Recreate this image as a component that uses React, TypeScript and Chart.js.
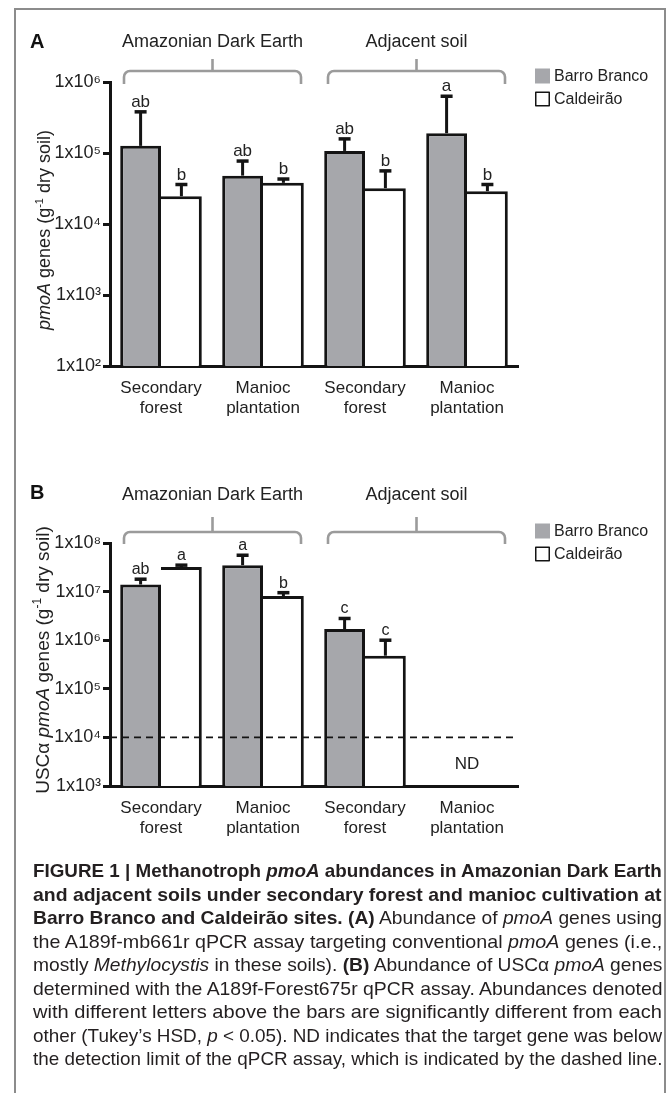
import React, { useEffect, useLayoutEffect, useRef } from 'react';
import { Chart, registerables } from 'chart.js';

Chart.register(...registerables);

const FONT = "'Liberation Sans', Arial, Helvetica, sans-serif";

// ---------- data ----------
const categories = [
  ['Secondary', 'forest'],
  ['Manioc', 'plantation'],
  ['Secondary', 'forest'],
  ['Manioc', 'plantation'],
];
const seriesNames = ['Barro Branco', 'Caldeirão'];
const groupLabels = ['Amazonian Dark Earth', 'Adjacent soil'];

// Panel A: conventional pmoA genes (g-1 dry soil)
const aBarroBranco = [1.26e5, 4.8e4, 1.07e5, 1.9e5];
const aBarroBrancoErr = [3.8e5, 7.7e4, 1.58e5, 6.3e5];
const aCaldeirao = [2.46e4, 3.8e4, 3.2e4, 2.9e4];
const aCaldeiraoErr = [3.6e4, 4.3e4, 5.6e4, 3.6e4];
const aBarroBrancoLetters = ['ab', 'ab', 'ab', 'a'];
const aCaldeiraoLetters = ['b', 'b', 'b', 'b'];
const aTicks = [1e2, 1e3, 1e4, 1e5, 1e6];

// Panel B: USCα pmoA genes (g-1 dry soil); null = not detected
const bBarroBranco = [1.4e7, 3.5e7, 1.7e6, null];
const bBarroBrancoErr = [1.8e7, 5.6e7, 2.8e6, null];
const bCaldeirao = [3.2e7, 8.1e6, 4.8e5, null];
const bCaldeiraoErr = [3.5e7, 9.5e6, 1.0e6, null];
const bBarroBrancoLetters = ['ab', 'a', 'c', ''];
const bCaldeiraoLetters = ['a', 'b', 'c', ''];
const bTicks = [1e3, 1e4, 1e5, 1e6, 1e7, 1e8];
const bDetectionLimit = 1e4;

// ---------- helpers ----------
const SUP: Record<string, string> = {
  '0': '\u2070', '1': '\u00B9', '2': '\u00B2', '3': '\u00B3', '4': '\u2074',
  '5': '\u2075', '6': '\u2076', '7': '\u2077', '8': '\u2078', '9': '\u2079',
};
const powLabel = (v: number) =>
  '1x10' + String(Math.round(Math.log10(v))).split('').map((c) => SUP[c]).join('');

type Seg = { t: string; style?: string; sup?: boolean };

function drawSegs(ctx: CanvasRenderingContext2D, segs: Seg[], size: number, cx: number, cy: number, rot: number) {
  ctx.save();
  ctx.translate(cx, cy);
  ctx.rotate(rot);
  const fontOf = (s: Seg) => `${s.style || ''} ${s.sup ? Math.round(size * 0.62) : size}px ${FONT}`;
  let total = 0;
  segs.forEach((s) => { ctx.font = fontOf(s); total += ctx.measureText(s.t).width; });
  let x = -total / 2;
  ctx.textAlign = 'left';
  ctx.textBaseline = 'alphabetic';
  ctx.fillStyle = '#222';
  const base = size * 0.36;
  segs.forEach((s) => {
    ctx.font = fontOf(s);
    ctx.fillText(s.t, x, s.sup ? base - size * 0.42 : base);
    x += ctx.measureText(s.t).width;
  });
  ctx.restore();
}

interface PanelCfg {
  letter: string;
  canvasHeight: number;
  areaTop: number;
  areaBottom: number;
  bb: (number | null)[];
  bbErr: (number | null)[];
  cal: (number | null)[];
  calErr: (number | null)[];
  bbLetters: string[];
  calLetters: string[];
  ticks: number[];
  titleSegs: Seg[];
  titleSize: number;
  titleX: number;
  titleY: number;
  letterY: number;
  groupTitleY: number;
  bracketTopY: number;
  bracketLineY: number;
  bracketHookY: number;
  legendY: [number, number];
  letterFont: number;
  dashed?: number;
  nd?: { text: string; y: number; cat: number };
}

const GRAY = '#a6a7ab';
const INK = '#141414';

function Panel({ cfg, top }: { cfg: PanelCfg; top: number }) {
  const ref = useRef<HTMLCanvasElement>(null);
  useEffect(() => {
    const canvas = ref.current!;
    const decor = {
      id: 'decor' + cfg.letter,
      afterDraw(chart: any) {
        const ctx: CanvasRenderingContext2D = chart.ctx;
        const xs = chart.scales.x;
        const ys = chart.scales.y;
        const area = chart.chartArea;
        ctx.save();

        // detection limit
        if (cfg.dashed) {
          const y = ys.getPixelForValue(cfg.dashed);
          ctx.strokeStyle = INK;
          ctx.lineWidth = 1.6;
          ctx.setLineDash([7, 5]);
          ctx.beginPath();
          ctx.moveTo(area.left, y);
          ctx.lineTo(area.right, y);
          ctx.stroke();
          ctx.setLineDash([]);
        }

        // error bars + significance letters
        const sets: [(number | null)[], string[]][] = [
          [cfg.bbErr, cfg.bbLetters],
          [cfg.calErr, cfg.calLetters],
        ];
        sets.forEach(([errs, letters], di) => {
          const meta = chart.getDatasetMeta(di);
          meta.data.forEach((el: any, j: number) => {
            const e = errs[j];
            if (e == null) return;
            const x = el.x;
            const y0 = el.y;
            const y1 = ys.getPixelForValue(e);
            ctx.strokeStyle = INK;
            ctx.lineWidth = 3;
            ctx.beginPath();
            ctx.moveTo(x, y0);
            ctx.lineTo(x, y1);
            ctx.stroke();
            ctx.lineWidth = 3.5;
            ctx.beginPath();
            ctx.moveTo(x - 6, y1);
            ctx.lineTo(x + 6, y1);
            ctx.stroke();
            ctx.fillStyle = '#222';
            ctx.font = `${cfg.letterFont}px ${FONT}`;
            ctx.textAlign = 'center';
            ctx.textBaseline = 'alphabetic';
            ctx.fillText(letters[j], x, y1 - 5);
          });
        });

        // ND
        if (cfg.nd) {
          ctx.fillStyle = '#222';
          ctx.font = `17px ${FONT}`;
          ctx.textAlign = 'center';
          ctx.textBaseline = 'middle';
          ctx.fillText(cfg.nd.text, xs.getPixelForValue(cfg.nd.cat), cfg.nd.y);
        }

        // brackets + group titles
        const groups = [[0, 1], [2, 3]];
        groups.forEach((g, gi) => {
          const x0 = xs.getPixelForValue(g[0]) - 37;
          const x1 = xs.getPixelForValue(g[1]) + 38;
          const cx = (x0 + x1) / 2;
          const r = 6;
          ctx.strokeStyle = '#9b9b9b';
          ctx.lineWidth = 2.6;
          ctx.lineCap = 'butt';
          ctx.lineJoin = 'round';
          ctx.beginPath();
          ctx.moveTo(x0, cfg.bracketHookY);
          ctx.arcTo(x0, cfg.bracketLineY, x0 + r, cfg.bracketLineY, r);
          ctx.arcTo(x1, cfg.bracketLineY, x1, cfg.bracketLineY + r, r);
          ctx.lineTo(x1, cfg.bracketHookY);
          ctx.stroke();
          ctx.beginPath();
          ctx.moveTo(cx, cfg.bracketLineY);
          ctx.lineTo(cx, cfg.bracketTopY);
          ctx.stroke();
          ctx.fillStyle = '#222';
          ctx.font = `18px ${FONT}`;
          ctx.textAlign = 'center';
          ctx.textBaseline = 'middle';
          ctx.fillText(groupLabels[gi], cx, cfg.groupTitleY);
        });

        // legend
        const lx = 535;
        seriesNames.forEach((name, i) => {
          const y = cfg.legendY[i];
          if (i === 0) {
            ctx.fillStyle = GRAY;
            ctx.fillRect(lx, y - 7.5, 15, 15);
          } else {
            ctx.fillStyle = '#fff';
            ctx.fillRect(lx, y - 7.5, 15, 15);
            ctx.strokeStyle = INK;
            ctx.lineWidth = 1.5;
            ctx.strokeRect(lx + 0.75, y - 6.75, 13.5, 13.5);
          }
          ctx.fillStyle = '#222';
          ctx.font = `16px ${FONT}`;
          ctx.textAlign = 'left';
          ctx.textBaseline = 'middle';
          ctx.fillText(name, lx + 19, y + 1);
        });

        // panel letter
        ctx.fillStyle = '#111';
        ctx.font = `bold 20px ${FONT}`;
        ctx.textAlign = 'left';
        ctx.textBaseline = 'middle';
        ctx.fillText(cfg.letter, 30, cfg.letterY);

        // y title
        drawSegs(ctx, cfg.titleSegs, cfg.titleSize, cfg.titleX, cfg.titleY, -Math.PI / 2);

        ctx.restore();
      },
    };

    const chart = new Chart(canvas, {
      type: 'bar',
      data: {
        labels: categories,
        datasets: [
          {
            label: seriesNames[0],
            data: cfg.bb as any,
            backgroundColor: GRAY,
            borderColor: INK,
            borderWidth: { top: 3, left: 3, right: 3, bottom: 0 } as any,
            borderSkipped: 'start',
          },
          {
            label: seriesNames[1],
            data: cfg.cal as any,
            backgroundColor: '#ffffff',
            borderColor: INK,
            borderWidth: { top: 3, left: 0, right: 3, bottom: 0 } as any,
            borderSkipped: 'start',
          },
        ],
      },
      options: {
        responsive: false,
        animation: false,
        events: [],
        layout: { padding: { left: 0, right: 671 - 518, top: cfg.areaTop, bottom: 0 } },
        datasets: { bar: { categoryPercentage: 0.8, barPercentage: 1.0 } },
        plugins: { legend: { display: false }, tooltip: { enabled: false } },
        scales: {
          x: {
            type: 'category',
            grid: { display: false },
            border: { display: true, color: INK, width: 3 },
            ticks: {
              color: '#222',
              font: { family: FONT, size: 17 },
              padding: 4,
              maxRotation: 0,
              autoSkip: false,
            },
            afterFit: (s: any) => { s.height = cfg.canvasHeight - cfg.areaBottom; },
          },
          y: {
            type: 'logarithmic',
            min: cfg.ticks[0],
            max: cfg.ticks[cfg.ticks.length - 1],
            grid: {
              display: true,
              drawOnChartArea: false,
              drawTicks: true,
              tickLength: 7,
              lineWidth: 3,
              color: INK,
            },
            border: { display: true, color: INK, width: 3 },
            ticks: {
              color: '#222',
              font: { family: FONT, size: 18 },
              padding: 2,
              autoSkip: false,
              callback: (v: any) => powLabel(Number(v)),
            },
            afterBuildTicks: (s: any) => { s.ticks = cfg.ticks.map((v) => ({ value: v })); },
            afterFit: (s: any) => { s.width = 110; },
          },
        },
      },
      plugins: [decor],
    } as any);
    return () => chart.destroy();
  }, [cfg]);
  return (
    <canvas
      ref={ref}
      width={671}
      height={cfg.canvasHeight}
      style={{ position: 'absolute', left: 0, top, width: 671, height: cfg.canvasHeight, display: 'block' }}
    />
  );
}

const panelA: PanelCfg = {
  letter: 'A',
  canvasHeight: 430,
  areaTop: 82,
  areaBottom: 366,
  bb: aBarroBranco,
  bbErr: aBarroBrancoErr,
  cal: aCaldeirao,
  calErr: aCaldeiraoErr,
  bbLetters: aBarroBrancoLetters,
  calLetters: aCaldeiraoLetters,
  ticks: aTicks,
  titleSegs: [
    { t: 'pmoA', style: 'italic' },
    { t: ' genes (g' },
    { t: '-1', sup: true },
    { t: ' dry soil)' },
  ],
  titleSize: 18,
  titleX: 44,
  titleY: 230,
  letterY: 42,
  groupTitleY: 42,
  bracketTopY: 59,
  bracketLineY: 71,
  bracketHookY: 84,
  legendY: [76, 99],
  letterFont: 17,
};

const panelB: PanelCfg = {
  letter: 'B',
  canvasHeight: 440,
  areaTop: 113,
  areaBottom: 356,
  bb: bBarroBranco,
  bbErr: bBarroBrancoErr,
  cal: bCaldeirao,
  calErr: bCaldeiraoErr,
  bbLetters: bBarroBrancoLetters,
  calLetters: bCaldeiraoLetters,
  ticks: bTicks,
  titleSegs: [
    { t: 'USC\u03B1 ' },
    { t: 'pmoA', style: 'italic' },
    { t: ' genes (g' },
    { t: '-1', sup: true },
    { t: ' dry soil)' },
  ],
  titleSize: 19,
  titleX: 42,
  titleY: 230,
  letterY: 63,
  groupTitleY: 65,
  bracketTopY: 87,
  bracketLineY: 102,
  bracketHookY: 114,
  legendY: [101, 124],
  letterFont: 16,
  dashed: bDetectionLimit,
  nd: { text: 'ND', y: 334, cat: 3 },
};

const CAPTION_LEFT = 33;
const CAPTION_WIDTH = 629;

function CaptionLine({ top, children }: { top: number; children: React.ReactNode }) {
  const ref = useRef<HTMLSpanElement>(null);
  useLayoutEffect(() => {
    const el = ref.current!;
    const w = el.offsetWidth;
    if (w > 0) el.style.transform = `scaleX(${CAPTION_WIDTH / w})`;
  }, []);
  return (
    <div style={{ position: 'absolute', left: CAPTION_LEFT, top, whiteSpace: 'nowrap', lineHeight: '23.5px' }}>
      <span ref={ref} style={{ display: 'inline-block', transformOrigin: '0 0' }}>{children}</span>
    </div>
  );
}

export default function App() {
  const capTop = 859;
  const lh = 23.5;
  return (
    <div style={{ position: 'absolute', left: 0, top: 0, width: 671, height: 1093, overflow: 'hidden', background: '#fff', fontFamily: FONT }}>
      <div style={{ position: 'absolute', left: 14, top: 8, width: 652, height: 1200, border: '2px solid #8c8c8c', boxSizing: 'border-box' }} />
      <Panel cfg={panelA} top={0} />
      <Panel cfg={panelB} top={430} />
      <div style={{ position: 'absolute', left: 0, top: 0, fontSize: 19, color: '#231f20' }}>
        <CaptionLine top={capTop}>
          <b>FIGURE 1 | Methanotroph <i>pmoA</i> abundances in Amazonian Dark Earth</b>
        </CaptionLine>
        <CaptionLine top={capTop + lh}>
          <b>and adjacent soils under secondary forest and manioc cultivation at</b>
        </CaptionLine>
        <CaptionLine top={capTop + lh * 2}>
          <b>Barro Branco and Caldeirão sites. (A)</b> Abundance of <i>pmoA</i> genes using
        </CaptionLine>
        <CaptionLine top={capTop + lh * 3}>
          the A189f-mb661r qPCR assay targeting conventional <i>pmoA</i> genes (i.e.,
        </CaptionLine>
        <CaptionLine top={capTop + lh * 4}>
          mostly <i>Methylocystis</i> in these soils). <b>(B)</b> Abundance of USCα <i>pmoA</i> genes
        </CaptionLine>
        <CaptionLine top={capTop + lh * 5}>
          determined with the A189f-Forest675r qPCR assay. Abundances denoted
        </CaptionLine>
        <CaptionLine top={capTop + lh * 6}>
          with different letters above the bars are significantly different from each
        </CaptionLine>
        <CaptionLine top={capTop + lh * 7}>
          other (Tukey’s HSD, <i>p</i> &lt; 0.05). ND indicates that the target gene was below
        </CaptionLine>
        <CaptionLine top={capTop + lh * 8}>
          the detection limit of the qPCR assay, which is indicated by the dashed line.
        </CaptionLine>
      </div>
    </div>
  );
}
